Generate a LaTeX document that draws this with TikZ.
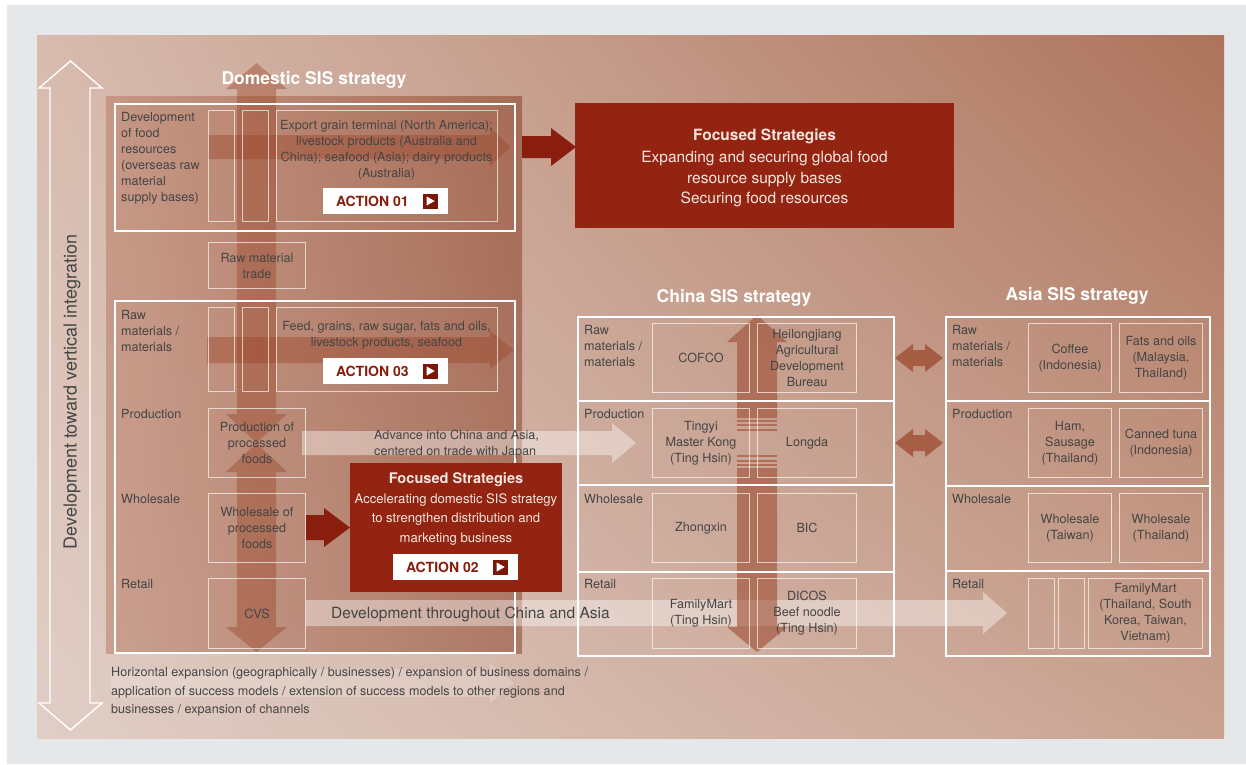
\documentclass[tikz,border=0pt]{standalone}
\usepackage{fontspec}
\setmainfont{TeX Gyre Heros}
\usetikzlibrary{calc,shadings}

\definecolor{bggrey}{HTML}{E6E7E8}
\definecolor{pTL}{HTML}{D7BBAE}
\definecolor{pTR}{HTML}{AD735B}
\definecolor{pBL}{HTML}{E0CEC6}
\definecolor{pBR}{HTML}{C9A290}
\definecolor{domL}{HTML}{B36F55}
\definecolor{domR}{HTML}{7E2C12}
\definecolor{arrowc}{HTML}{9A4428}
\definecolor{redbox}{HTML}{922411}
\definecolor{redarrow}{HTML}{8A1E0E}
\definecolor{acttext}{HTML}{8A1C0C}
\definecolor{actsq}{HTML}{7B1709}
\definecolor{tgrey}{HTML}{454545}
\definecolor{fstext}{HTML}{F6E6DF}

\newcommand{\bx}[7]{\node[#1, anchor=north west, minimum width={#4-#2}, minimum height={#5-#3}] (#6) at (#2,#3) {#7};}
\newcommand{\RArr}[7]{\fill[#1] (#2,{#5-#6}) -- (#3,{#5-#6}) -- (#3,{#5-#7}) -- (#4,#5) -- (#3,{#5+#7}) -- (#3,{#5+#6}) -- (#2,{#5+#6}) -- cycle;}
\newcommand{\VDArr}[8]{\fill[#1] (#2,#3) -- ({#2+#8},#4) -- ({#2+#7},#4) -- ({#2+#7},#5) -- ({#2+#8},#5) -- (#2,#6) -- ({#2-#8},#5) -- ({#2-#7},#5) -- ({#2-#7},#4) -- ({#2-#8},#4) -- cycle;}
\newcommand{\HDArr}[8]{\fill[#1] (#3,#2) -- (#4,{#2-#8}) -- (#4,{#2-#7}) -- (#5,{#2-#7}) -- (#5,{#2-#8}) -- (#6,#2) -- (#5,{#2+#8}) -- (#5,{#2+#7}) -- (#4,{#2+#7}) -- (#4,{#2+#8}) -- cycle;}
\newcommand{\actbtn}[4]{%
 \node[actbox] (#1) at (#2,#3) {};
 \node[acttxt, anchor=west] (#1t) at ([shift={(13,0)}]#1.west) {#4};
 \node[actsqr] (#1s) at ([shift={(-18,0)}]#1.east) {};
 \fill[white] ([shift={(-3.5,-4.5)}]#1s.center) -- ([shift={(-3.5,4.5)}]#1s.center) -- ([shift={(4.5,0)}]#1s.center) -- cycle;}

\begin{document}
\begin{tikzpicture}[x=1pt,y=-1pt]
\tikzset{
 txt/.style={text=tgrey, font=\fontsize{12.6}{16}\selectfont, align=center, inner sep=0},
 lab/.style={txt, align=left, anchor=west},
 wbox/.style={draw=white, line width=1.6pt, inner sep=0},
 tbox/.style={draw=white, draw opacity=0.65, line width=1pt, txt},
 title/.style={text=white, font=\fontsize{17.5}{20}\selectfont\bfseries, inner sep=0},
 redbx/.style={fill=redbox, inner sep=0},
 fstxt/.style={text=fstext, align=center, inner sep=0},
 actbox/.style={fill=white, minimum width=125, minimum height=26, inner sep=0},
 acttxt/.style={text=acttext, font=\fontsize{14}{16}\selectfont\bfseries, inner sep=0},
 actsqr/.style={fill=actsq, minimum size=15, inner sep=0},
 tarrow/.style={fill=arrowc, fill opacity=0.42},
 carrow/.style={fill=arrowc, fill opacity=0.55},
 harrow/.style={fill=arrowc, fill opacity=0.7},
 larrow/.style={fill=white, fill opacity=0.4},
 farrow/.style={fill=white, fill opacity=0.2},
 rarrow/.style={fill=redarrow},
}
\useasboundingbox (0,0) rectangle (1246,764);
\fill[white] (0,0) rectangle (1246,764);
\fill[bggrey] (7,5) rectangle (1246,764);
\shade[upper left=pTL, upper right=pTR, lower left=pBL, lower right=pBR] (37,35) rectangle (1224,738);
\shade[left color=domL, right color=domR, fill opacity=0.45] (106,96) rectangle (522,653);

% left hollow double arrow
\draw[white, line width=1.4pt, line join=miter] (70.5,61) -- (102,88) -- (90,88) -- (90,703) -- (102,703) -- (70.5,730) -- (39,703) -- (50,703) -- (50,88) -- (39,88) -- cycle;
\node[txt, rotate=90, font=\fontsize{18}{20}\selectfont] (vtext) at (72,392) {Development toward vertical integration};

% domestic arrows
\VDArr{tarrow}{256.5}{63}{89}{414}{443}{19.5}{30.5}
\VDArr{tarrow}{256.5}{443}{472}{627}{652}{19.5}{30.5}
\RArr{tarrow}{208}{490}{511}{147}{12}{19}
\RArr{tarrow}{207}{490}{514}{350}{13}{19}

% light arrows
\RArr{larrow}{302}{612}{636}{443}{12}{20}
\RArr{larrow}{306}{983}{1007}{613}{13}{21}
\RArr{farrow}{111}{490}{514}{683}{14}{20}

% China vertical arrow
\fill[carrow] (757,315) -- (787,342) -- (777,342) -- (777,418) -- (737,418) -- (737,342) -- (727,342) -- cycle;
\foreach \yy in {419.5,424,428.5,455,459.5,464} \fill[carrow] (737,\yy) rectangle (777,{\yy+2});
\fill[carrow] (737,468) -- (777,468) -- (777,627) -- (787,627) -- (757,652) -- (727,627) -- (737,627) -- cycle;
\HDArr{harrow}{358}{895}{913}{925}{943}{8}{14}
\HDArr{harrow}{443}{895}{913}{925}{943}{8}{14}

% domestic boxes
\bx{wbox}{114}{103}{514}{230}{boxA}{}
\bx{tbox}{208}{110}{234}{221}{colA1}{}
\bx{tbox}{242}{110}{268}{221}{colA2}{}
\bx{tbox}{276}{110}{497}{221}{txtA}{}
\bx{tbox}{208}{242}{305}{288}{rmt}{Raw material\\trade}
\bx{wbox}{114}{300}{514}{652}{boxB}{}
\bx{tbox}{208}{307}{234}{391}{colB1}{}
\bx{tbox}{242}{307}{268}{391}{colB2}{}
\bx{tbox}{276}{307}{497}{391}{txtB}{}
\bx{tbox}{208}{408}{305}{477}{prod}{Production of\\processed\\foods}
\bx{tbox}{208}{493}{305}{562}{whol}{Wholesale of\\processed\\foods}
\bx{tbox}{208}{578}{305}{648}{cvs}{CVS}

\node[lab] (labA) at (121,158) {Development\\of food\\resources\\(overseas raw\\material\\supply bases)};
\node[txt] (txtAt) at (386.5,150) {Export grain terminal (North America);\\livestock products (Australia and\\China); seafood (Asia); dairy products\\(Australia)};
\node[lab] (labB1) at (121,331) {Raw\\materials /\\materials};
\node[lab] (labB2) at (121,414) {Production};
\node[lab] (labB3) at (121,499) {Wholesale};
\node[lab] (labB4) at (121,584) {Retail};
\node[txt] (txtBt) at (386.5,335) {Feed, grains, raw sugar, fats and oils,\\livestock products, seafood};

% China table
\bx{wbox}{577}{316}{893}{400}{cr1}{}
\bx{wbox}{577}{400}{893}{484}{cr2}{}
\bx{wbox}{577}{484}{893}{571}{cr3}{}
\bx{wbox}{577}{571}{893}{655}{cr4}{}
\bx{tbox}{652}{323}{749}{392}{cofco}{COFCO}
\bx{tbox}{757}{323}{856}{392}{heil}{Heilongjiang\\Agricultural\\Development\\Bureau}
\bx{tbox}{652}{408}{749}{477}{tingyi}{Tingyi\\Master Kong\\(Ting Hsin)}
\bx{tbox}{757}{408}{856}{477}{longda}{Longda}
\bx{tbox}{652}{493}{749}{562}{zhong}{Zhongxin}
\bx{tbox}{757}{493}{856}{562}{bic}{BIC}
\bx{tbox}{652}{578}{749}{648}{fmch}{FamilyMart\\(Ting Hsin)}
\bx{tbox}{757}{578}{856}{648}{dicos}{DICOS\\Beef noodle\\(Ting Hsin)}
\node[lab] (chL1) at (584,346) {Raw\\materials /\\materials};
\node[lab] (chL2) at (584,414) {Production};
\node[lab] (chL3) at (584,499) {Wholesale};
\node[lab] (chL4) at (584,584) {Retail};

% Asia table
\bx{wbox}{945}{316}{1209}{400}{ar1}{}
\bx{wbox}{945}{400}{1209}{485}{ar2}{}
\bx{wbox}{945}{485}{1209}{570}{ar3}{}
\bx{wbox}{945}{570}{1209}{655}{ar4}{}
\bx{tbox}{1028}{323}{1111}{392}{coffee}{Coffee\\(Indonesia)}
\bx{tbox}{1119}{323}{1202}{392}{fats}{Fats and oils\\(Malaysia,\\Thailand)}
\bx{tbox}{1028}{408}{1111}{477}{ham}{Ham,\\Sausage\\(Thailand)}
\bx{tbox}{1119}{408}{1202}{477}{tuna}{Canned tuna\\(Indonesia)}
\bx{tbox}{1028}{493}{1111}{562}{wtw}{Wholesale\\(Taiwan)}
\bx{tbox}{1119}{493}{1202}{562}{wth}{Wholesale\\(Thailand)}
\bx{tbox}{1028}{578}{1054}{648}{as1}{}
\bx{tbox}{1058}{578}{1084}{648}{as2}{}
\bx{tbox}{1088}{578}{1202}{648}{fmas}{FamilyMart\\(Thailand, South\\Korea, Taiwan,\\Vietnam)}
\node[lab] (asL1) at (952,346) {Raw\\materials /\\materials};
\node[lab] (asL2) at (952,414) {Production};
\node[lab] (asL3) at (952,499) {Wholesale};
\node[lab] (asL4) at (952,584) {Retail};

% red boxes and arrows
\RArr{rarrow}{522}{551}{576}{147}{11}{19}
\bx{redbx}{575}{103}{954}{228}{fs1}{}
\node[fstxt, font=\fontsize{15.5}{20.5}\selectfont] (fs1t) at (764.5,168) {\textbf{Focused Strategies}\\[1.5pt]Expanding and securing global food\\resource supply bases\\Securing food resources};
\RArr{rarrow}{306}{324}{350}{527.5}{12.5}{19.5}
\bx{redbx}{350}{463}{562}{592}{fs2}{}
\node[fstxt, font=\fontsize{13.1}{19.5}\selectfont] (fs2t) at (456,509) {{\fontsize{14.6}{19.5}\selectfont\bfseries Focused Strategies}\\Accelerating domestic SIS strategy\\to strengthen distribution and\\marketing business};

\actbtn{act1}{385.5}{201}{ACTION 01}
\actbtn{act3}{385.5}{371}{ACTION 03}
\actbtn{act2}{455.5}{567}{ACTION 02}

% free texts
\node[lab] (adv) at (374,444) {Advance into China and Asia,\\centered on trade with Japan};
\node[txt, anchor=west, font=\fontsize{15.5}{18}\selectfont] (devt) at (331,614.5) {Development throughout China and Asia};
\node[lab, font=\fontsize{12.6}{18.5}\selectfont] (horiz) at (111,692) {Horizontal expansion (geographically / businesses) / expansion of business domains /\\application of success models / extension of success models to other regions and\\businesses / expansion of channels};

% titles
\node[title] (domT) at (314,79.5) {Domestic SIS strategy};
\node[title] (chT) at (734,297.5) {China SIS strategy};
\node[title] (asT) at (1077,295.5) {Asia SIS strategy};
\end{tikzpicture}
\end{document}
